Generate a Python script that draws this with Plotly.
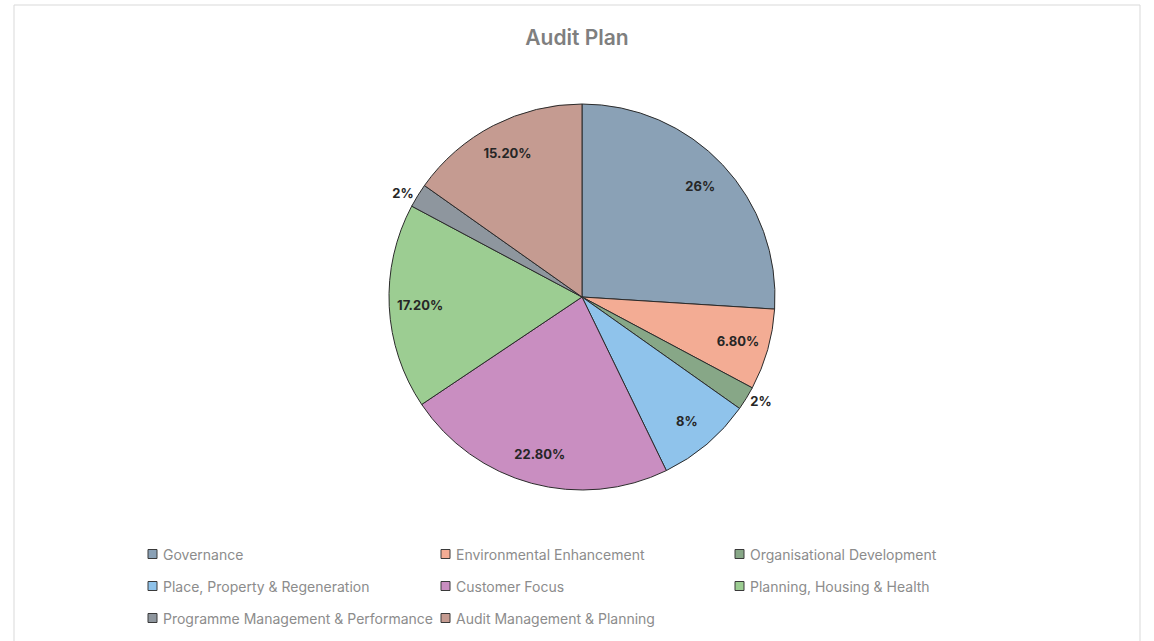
import plotly.graph_objects as go

categories = ["Governance", "Environmental Enhancement", "Organisational Development",
              "Place, Property & Regeneration", "Customer Focus", "Planning, Housing & Health",
              "Programme Management & Performance", "Audit Management & Planning"]
values = [26, 6.8, 2, 8, 22.8, 17.2, 2, 15.2]
value_labels = ["26%", "6.80%", "2%", "8%", "22.80%", "17.20%", "2%", "15.20%"]
colors = ["#8aa1b6", "#f3ac94", "#87a787", "#8fc3eb", "#c98ec1", "#9ccd92", "#8e969e", "#c59b91"]
outside = [False, False, True, False, False, False, True, False]

W, H = 1154, 641
def px(x): return x / W
def py(y): return 1 - y / H

FONT = "Inter"
dom = dict(x=[px(389), px(775)], y=[py(490), py(104)])
tfont = dict(family=FONT, size=13, color="#262626", weight="bold")

# main pie: slices + outside labels for the small slices
fig = go.Figure(go.Pie(
    labels=categories, values=values,
    text=[t if o else "" for t, o in zip(value_labels, outside)],
    texttemplate="%{text}", textinfo="text",
    textposition=["outside" if o else "none" for o in outside],
    sort=False, direction="clockwise", rotation=0,
    marker=dict(colors=colors, line=dict(color="#2b2b2b", width=1)),
    textfont=tfont, domain=dom, showlegend=False, hoverinfo="label+percent",
))
# transparent ring overlay to place the inside labels near the rim (like Excel)
fig.add_trace(go.Pie(
    labels=categories, values=values,
    text=[("" if o else t) for t, o in zip(value_labels, outside)],
    texttemplate="%{text}", textinfo="text",
    textposition=["none" if o else "inside" for o in outside],
    insidetextorientation="horizontal", hole=0.68,
    sort=False, direction="clockwise", rotation=0,
    marker=dict(colors=["rgba(0,0,0,0)"] * len(values), line=dict(width=0)),
    textfont=tfont, domain=dom, showlegend=False, hoverinfo="skip",
))

col_x = [148, 441, 735]
row_y = [554, 586, 618]
shapes = [dict(type="rect", xref="paper", yref="paper",
               x0=px(14), x1=px(1140), y0=py(645), y1=py(5),
               line=dict(color="#d9d9d9", width=1), fillcolor="rgba(0,0,0,0)", layer="below")]
annotations = []
for i, (cat, col) in enumerate(zip(categories, colors)):
    cx = col_x[i % 3]
    cy = row_y[i // 3]
    shapes.append(dict(type="rect", xref="paper", yref="paper",
                       x0=px(cx), x1=px(cx + 9), y0=py(cy + 4.5), y1=py(cy - 4.5),
                       fillcolor=col, line=dict(color="#3a3a3a", width=1)))
    annotations.append(dict(x=px(cx + 13), y=py(cy), xref="paper", yref="paper",
                            text=cat, showarrow=False, xanchor="left", yanchor="middle",
                            font=dict(family=FONT, size=14, color="#8c8c8c")))

fig.update_layout(
    width=W, height=H,
    margin=dict(l=0, r=0, t=0, b=0),
    paper_bgcolor="white", plot_bgcolor="white",
    title=dict(text="Audit Plan", x=0.5, xanchor="center", y=py(38), yanchor="middle",
               font=dict(family=FONT, size=21, color="#7f7f7f", weight=600)),
    shapes=shapes, annotations=annotations,
)

fig.write_html("out.html", config={"displayModeBar": False},
               post_script="document.body.style.margin='0';document.body.style.overflow='hidden';")
